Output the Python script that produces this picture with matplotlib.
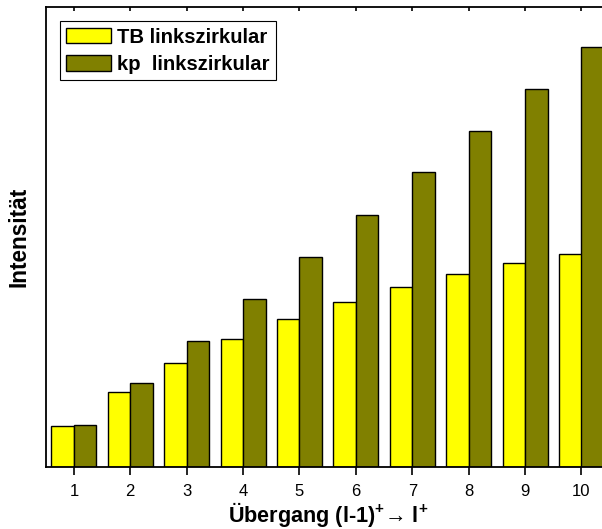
import matplotlib
matplotlib.use("Agg")
import matplotlib.pyplot as plt
import numpy as np

categories = [1, 2, 3, 4, 5, 6, 7, 8, 9, 10]
tb_values = [41.3, 75.3, 103.7, 127.7, 148.0, 165.0, 179.7, 193.0, 204.0, 213.3]
kp_values = [42.3, 84.0, 126.3, 168.0, 210.3, 252.0, 294.7, 336.7, 378.3, 420.7]
series_labels = ["TB linkszirkular", "kp  linkszirkular"]

plt.rcParams['font.family'] = ['Liberation Sans', 'DejaVu Sans']
plt.rcParams['mathtext.fontset'] = 'custom'
plt.rcParams['mathtext.rm'] = 'Liberation Sans'
plt.rcParams['mathtext.bf'] = 'Liberation Sans:bold'

W, H = 602, 529
fig = plt.figure(figsize=(W / 100, H / 100), dpi=100)
left = 45.7 / W
bottom = (H - 467) / H
height = (467 - 7.3) / H
width = 564 / W
ax = fig.add_axes([left, bottom, width, height])

x = np.array(categories, dtype=float)
bw = 0.4
ax.bar(x - bw / 2, tb_values, width=bw, color='#ffff00', edgecolor='black',
       linewidth=1.0, label=series_labels[0])
ax.bar(x + bw / 2, kp_values, width=bw, color='#808000', edgecolor='black',
       linewidth=1.0, label=series_labels[1])

ax.set_xlim(0.5, 10.5)
ax.set_ylim(0, 460)
ax.set_xticks(categories)
ax.set_xticklabels([str(c) for c in categories], fontsize=12)
ax.set_yticks([])
ax.tick_params(axis='x', direction='out', length=6, width=1.2, pad=6,
               top=True, labeltop=False)
for s in ['left', 'bottom', 'top', 'right']:
    ax.spines[s].set_linewidth(1.3)
    ax.spines[s].set_color('black')

for t in ax.xaxis.get_major_ticks():
    t.tick2line.set_markersize(3)
    t.tick2line.set_marker(3)

ax.set_ylabel('Intensität', fontsize=16.3, fontweight='bold', labelpad=11)
ax.set_xlabel(r'Übergang (l-1)$^{\mathbf{+}}$→ l$^{\mathbf{+}}$', fontsize=15.6,
              fontweight='bold', labelpad=1)

leg = ax.legend(loc='upper left', bbox_to_anchor=(14 / 564, 1 - 14 / 460),
                fontsize=14.6, frameon=True, fancybox=False, framealpha=1,
                edgecolor='black', handlelength=2.2, handleheight=0.8,
                borderpad=0.32, labelspacing=0.4, handletextpad=0.3,
                borderaxespad=0)
leg.get_frame().set_linewidth(0.8)
for t in leg.get_texts():
    t.set_fontweight('bold')

fig.savefig('out.png', dpi=100)
